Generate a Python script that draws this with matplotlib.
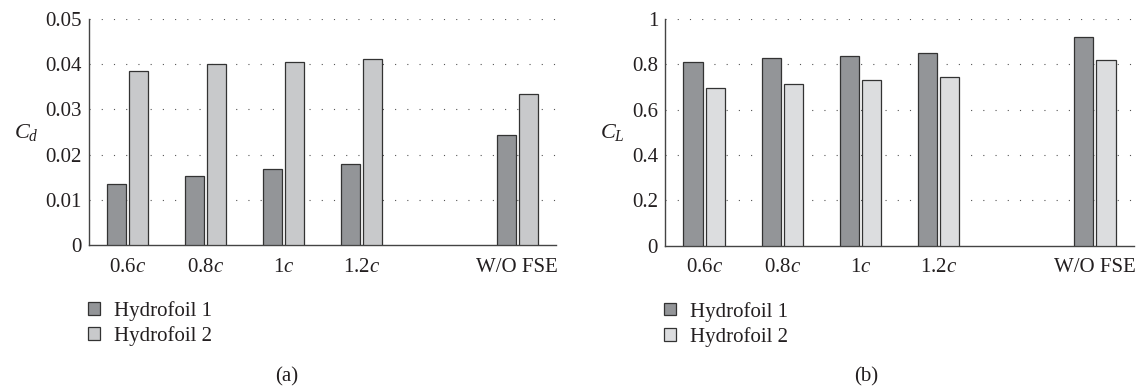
import matplotlib
matplotlib.use("Agg")
import matplotlib.pyplot as plt
import numpy as np

plt.rcParams['font.family'] = ['Liberation Serif', 'DejaVu Serif']
plt.rcParams['mathtext.fontset'] = 'custom'
plt.rcParams['mathtext.rm'] = 'Liberation Serif'
plt.rcParams['mathtext.it'] = 'Liberation Serif:italic'

# spacing cases, one empty slot before the no-free-surface case
cases = ['0.6$c$', '0.8$c$', '1$c$', '1.2$c$', 'W/O FSE']
case_pos = [0, 1, 2, 3, 5]

cd_h1 = [0.0135, 0.0152, 0.0169, 0.0179, 0.0243]
cd_h2 = [0.0386, 0.0400, 0.0406, 0.0411, 0.0335]
cl_h1 = [0.809, 0.828, 0.838, 0.850, 0.919]
cl_h2 = [0.697, 0.715, 0.732, 0.744, 0.819]

cd_ticks = [0, 0.01, 0.02, 0.03, 0.04, 0.05]
cd_ticklabels = ['0', '0.01', '0.02', '0.03', '0.04', '0.05']
cl_ticks = [0, 0.2, 0.4, 0.6, 0.8, 1.0]
cl_ticklabels = ['0', '0.2', '0.4', '0.6', '0.8', '1']

labels = ['Hydrofoil 1', 'Hydrofoil 2']


def draw_panel(ax, h1, h2, c2, ticks, ticklabels, ylabel, tag, tag_x):
    x = np.array(case_pos)
    w = 0.245
    ax.bar(x - 0.142, h1, w, color='#939598', edgecolor='#333333', linewidth=0.9,
           label=labels[0], zorder=3)
    ax.bar(x + 0.142, h2, w, color=c2, edgecolor='#333333', linewidth=0.9,
           label=labels[1], zorder=3)
    ax.set_xlim(-0.5, 5.5)
    ax.set_ylim(ticks[0], ticks[-1])
    ax.set_yticks(ticks)
    ax.set_yticklabels(ticklabels)
    ax.set_xticks(case_pos)
    ax.set_xticklabels(cases)
    ax.tick_params(length=0, labelsize=15, colors='#231f20')
    ax.tick_params(axis='y', pad=5)
    ax.tick_params(axis='x', pad=9)
    for t in ticks[1:]:
        ax.axhline(t, color='#555555', lw=0.8, ls=(0, (1, 10)), zorder=1)
    for s in ['top', 'right']:
        ax.spines[s].set_visible(False)
    for s in ['left', 'bottom']:
        ax.spines[s].set_color('#444444')
        ax.spines[s].set_linewidth(1.0)
    ax.set_ylabel(ylabel, fontsize=16, rotation=0, labelpad=14, va='center',
                  color='#231f20')
    leg = ax.legend(loc='upper left', bbox_to_anchor=(-0.024, -0.20), frameon=False,
                    fontsize=15, handlelength=0.55, handleheight=0.55,
                    handletextpad=0.7, labelspacing=0.25, borderpad=0)
    for t in leg.get_texts():
        t.set_color('#231f20')
    ax.figure.text(tag_x, 0.02, tag, fontsize=15, ha='center', color='#231f20')


fig = plt.figure(figsize=(11.38, 3.89), dpi=100)
ax1 = fig.add_axes([0.0782, 0.370, 0.4104, 0.581])
ax2 = fig.add_axes([0.5844, 0.368, 0.4121, 0.583])

draw_panel(ax1, cd_h1, cd_h2, '#c8c9cb', cd_ticks, cd_ticklabels, '$C_d$', '(a)', 0.252)
draw_panel(ax2, cl_h1, cl_h2, '#dcdddf', cl_ticks, cl_ticklabels, '$C_L$', '(b)', 0.761)

fig.savefig('out.png', dpi=100)
